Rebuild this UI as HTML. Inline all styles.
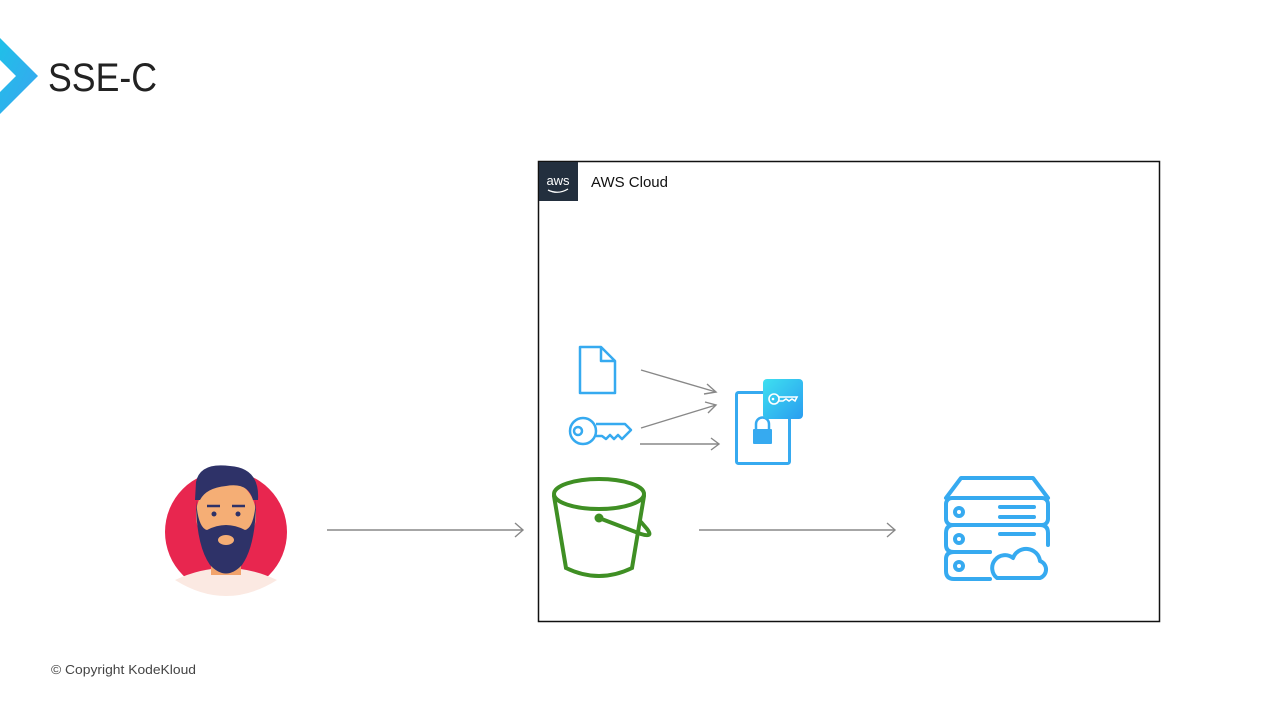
<!DOCTYPE html>
<html><head><meta charset="utf-8"><style>
html,body{margin:0;padding:0;background:#fff;}
svg{display:block;font-family:"Liberation Sans","DejaVu Sans",sans-serif;}
</style></head><body>
<svg width="1280" height="720" viewBox="0 0 1280 720" xmlns="http://www.w3.org/2000/svg">
<defs>
<linearGradient id="cg" x1="0" y1="0" x2="1" y2="1"><stop offset="0" stop-color="#1fc0e8"/><stop offset="1" stop-color="#3aa5f0"/></linearGradient>
<linearGradient id="kg" x1="0" y1="0" x2="1" y2="1"><stop offset="0" stop-color="#3ee0f0"/><stop offset="1" stop-color="#2a9df0"/></linearGradient>
</defs>
<polygon points="0,38 38,76 0,114 0,92 16,76 0,60" fill="url(#cg)"/>
<text x="48" y="91" font-size="40" fill="#222" textLength="109" lengthAdjust="spacingAndGlyphs">SSE-C</text>

<rect x="538.5" y="161.5" width="621" height="460" fill="none" stroke="#111" stroke-width="1.5"/>
<rect x="539" y="162" width="39" height="39" fill="#232f3e"/>
<text x="558" y="185" font-size="13" fill="#fff" text-anchor="middle">aws</text>
<path d="M548 190 Q558 195 568 189" stroke="#fff" stroke-width="1.3" fill="none"/>
<text x="591" y="187" font-size="15" fill="#111">AWS Cloud</text>

<path d="M580 347 H601 L615 361 V393 H580 Z M601 347 V361 H615" fill="none" stroke="#36aaf0" stroke-width="2.5" stroke-linejoin="round"/>
<g fill="none" stroke="#36aaf0" stroke-width="2.5" stroke-linejoin="round">
<circle cx="583" cy="431" r="13"/><circle cx="578" cy="431" r="4"/>
<path d="M596 424 H625 L631 430 L626 435 L622 439 L618 435 L614 439 L610 435 L606 439 L602 436 H596"/>
</g>
<g stroke="#888" stroke-width="1.4" fill="none">
<line x1="641" y1="370" x2="716" y2="392"/><path d="M707 384 L716 392 L704 394"/>
<line x1="641" y1="428" x2="716" y2="405"/><path d="M705 402 L716 405 L708 413"/>
<line x1="640" y1="444" x2="719" y2="444"/><path d="M711 438 L719 444 L711 450"/>
<line x1="327" y1="530" x2="523" y2="530"/><path d="M515 523 L523 530 L515 537"/>
<line x1="699" y1="530" x2="895" y2="530"/><path d="M887 523 L895 530 L887 537"/>
</g>
<rect x="736.5" y="392.5" width="53" height="71" rx="2" fill="none" stroke="#36aaf0" stroke-width="3"/>
<rect x="753" y="429" width="19" height="15" rx="1" fill="#36aaf0"/>
<path d="M756 430 V424 A6.5 6.5 0 0 1 769 424 V430" fill="none" stroke="#36aaf0" stroke-width="2.5"/>
<rect x="763" y="379" width="40" height="40" rx="4" fill="url(#kg)"/>
<g fill="none" stroke="#fff" stroke-width="1.6"><circle cx="774" cy="399" r="5"/><path d="M779 397 H797 L795 401 L792 399 L789 401 L786 399 L783 401 H779"/></g>
<circle cx="773" cy="399" r="1.3" fill="#fff"/>
<g fill="none" stroke="#3f8f24" stroke-width="4" stroke-linecap="round">
<ellipse cx="599" cy="494" rx="45" ry="15"/>
<path d="M554 496 L566 568 Q599 584 632 568 L644 496"/>
<path d="M599 518 L641 534 Q654 538 647 529 L641 522"/>
</g>
<circle cx="599" cy="518" r="4.5" fill="#3f8f24"/>
<g fill="none" stroke="#36aaf0" stroke-width="4" stroke-linecap="round" stroke-linejoin="round">
<path d="M946 498 L961 478 H1033 L1048 498"/>
<rect x="946" y="498" width="102" height="27" rx="6"/>
<path d="M990 552 H954 Q946 552 946 545 V533 Q946 525 954 525 H1040 Q1048 525 1048 533 V545"/>
<path d="M990 552 H954 Q946 552 946 559 V571 Q946 579 954 579 H990"/>
<circle cx="959" cy="512" r="4"/><circle cx="959" cy="539" r="4"/><circle cx="959" cy="566" r="4"/>
<path d="M1000 507 H1034 M1000 517 H1034 M1000 534 H1034"/>
<path d="M997 578 H1040 A9 9 0 0 0 1040 561 A14 14 0 0 0 1013 558 A10 10 0 0 0 997 578 Z" fill="#fff"/>
</g>
<circle cx="226" cy="532" r="61" fill="#e8264f"/>
<path d="M175 580 Q226 556 277 580 Q226 612 175 580 Z" fill="#fbe9e2"/>
<rect x="211" y="535" width="30" height="40" fill="#f2a36b"/>
<ellipse cx="226" cy="515" rx="30" ry="35" fill="#f5ae75"/>
<path d="M196 482 Q200 462 230 466 Q260 468 258 500 L253 500 Q248 482 226 486 Q206 488 200 500 L195 500 Z" fill="#2e3268"/>
<path d="M196 500 Q196 545 210 565 Q226 582 242 565 Q256 545 256 500 Q254 528 245 530 Q226 520 207 530 Q198 528 196 500 Z" fill="#2e3268"/>
<ellipse cx="226" cy="540" rx="8" ry="5" fill="#f5ae75"/>
<circle cx="214" cy="514" r="2.5" fill="#2e3268"/><circle cx="238" cy="514" r="2.5" fill="#2e3268"/>
<path d="M207 506 H220 M232 506 H245" stroke="#2e3268" stroke-width="2.5"/>

<text x="51" y="674" font-size="13" fill="#444" textLength="145" lengthAdjust="spacingAndGlyphs">© Copyright KodeKloud</text>
</svg>
</body></html>
